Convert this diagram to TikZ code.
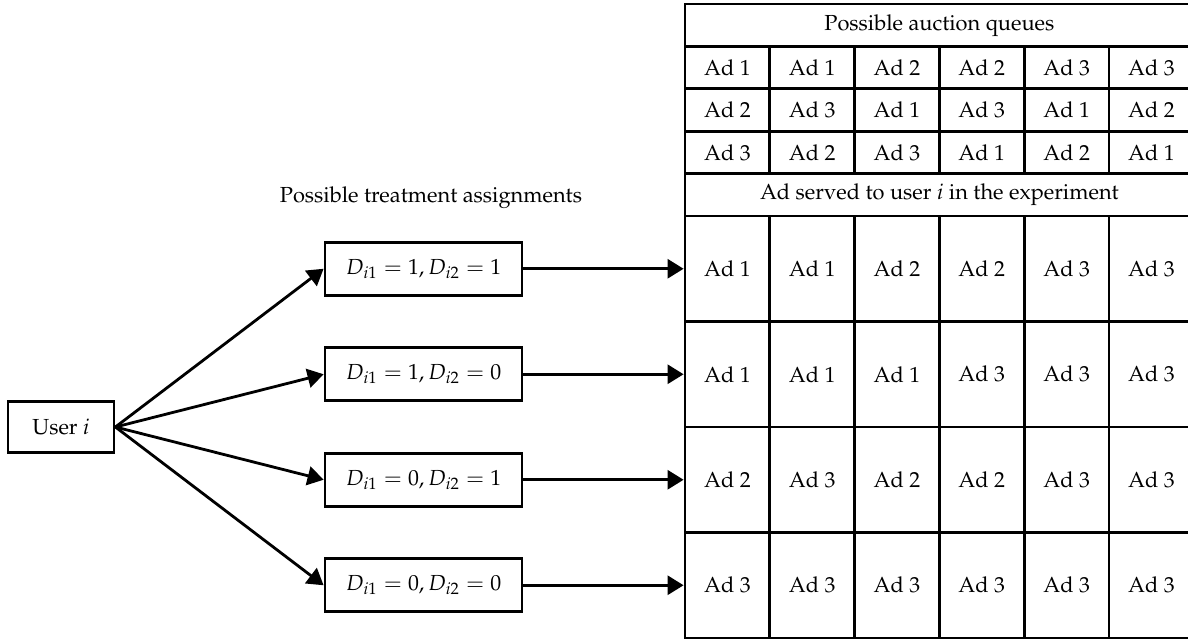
\documentclass[tikz,border=0pt]{standalone}
\usepackage[T1]{fontenc}
\usepackage{mathpazo}
\usetikzlibrary{arrows.meta}
\begin{document}
\begin{tikzpicture}[x=0.5pt,y=-0.5pt,
  font=\fontsize{10.9}{13}\selectfont,
  lw/.style={line width=1.4pt},
  box/.style={draw,lw,inner sep=0pt,minimum height=26.5pt},
  cellbase/.style={draw,lw,inner sep=0pt,minimum width=42.4pt},
  hcell/.style={cellbase,minimum height=21.2pt},
  scell/.style={cellbase,minimum height=52.75pt},
  span/.style={draw,lw,inner sep=0pt,minimum width=254.4pt,minimum height=21.2pt},
  arr/.style={lw,-{Triangle[length=8pt,width=9.5pt]}}]
\useasboundingbox (0,0) rectangle (1188,639);
\clip (0,0) rectangle (1188,639);
% left part
\node[box,minimum width=53pt,minimum height=25.5pt] (user) at (61,427) {User $i$};
\node[box,minimum width=98.5pt] (d1) at (423.5,268.75) {$D_{i1}=1, D_{i2}=1$};
\node[box,minimum width=98.5pt] (d2) at (423.5,374.25) {$D_{i1}=1, D_{i2}=0$};
\node[box,minimum width=98.5pt] (d3) at (423.5,479.75) {$D_{i1}=0, D_{i2}=1$};
\node[box,minimum width=98.5pt] (d4) at (423.5,585.25) {$D_{i1}=0, D_{i2}=0$};
\node (tlabel) at (431,198) {Possible treatment assignments};
% table
\node[span] (qtitle) at (939.4,25.2) {Possible auction queues};
\foreach \row [count=\r] in {{1,1,2,2,3,3},{2,3,1,3,1,2},{3,2,3,1,2,1}} {
  \foreach \v [count=\c] in \row {
    \node[hcell] (q\r-\c) at ({685+84.8*(\c-0.5)},{4+42.4*(\r+0.5)}) {Ad \v};
  }
}
\node[span] (stitle) at (939.4,194.8) {Ad served to user $i$ in the experiment};
\foreach \row [count=\r] in {{1,1,2,2,3,3},{1,1,1,3,3,3},{2,3,2,2,3,3},{3,3,3,3,3,3}} {
  \foreach \v [count=\c] in \row {
    \node[scell] (s\r-\c) at ({685+84.8*(\c-0.5)},{216+105.5*(\r-0.5)}) {Ad \v};
  }
}
% connectors
\foreach \k in {1,2,3,4} {
  \draw[arr] (user.east) -- (d\k.west);
  \draw[arr] (d\k.east) -- (s\k-1.west);
}
\end{tikzpicture}
\end{document}
